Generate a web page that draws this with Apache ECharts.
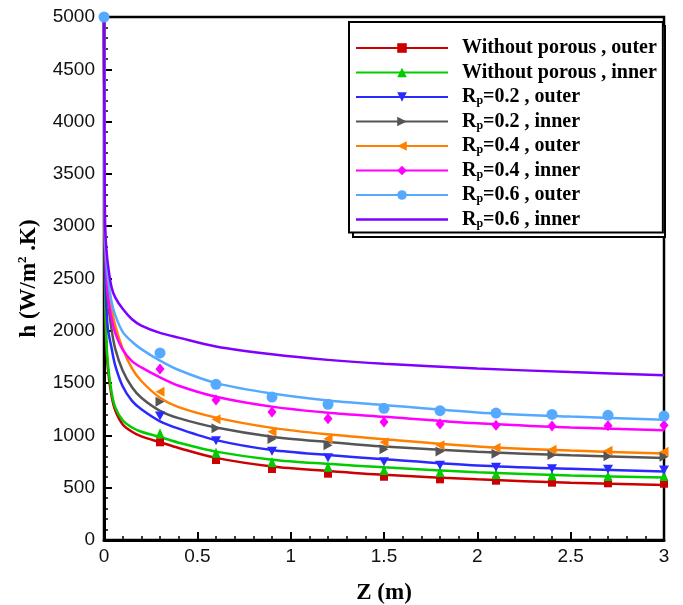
<!DOCTYPE html>
<html>
<head>
<meta charset="utf-8">
<script src="https://cdn.jsdelivr.net/npm/echarts@6/dist/echarts.min.js"></script>
<style>html,body{margin:0;padding:0;background:#fff;}#c{width:683px;height:605px;}</style>
</head>
<body>
<div id="c"></div>
<script>
// ---- data ----
const seriesNames = [
  'Without porous , outer', 'Without porous , inner',
  'R_p=0.2 , outer', 'R_p=0.2 , inner',
  'R_p=0.4 , outer', 'R_p=0.4 , inner',
  'R_p=0.6 , outer', 'R_p=0.6 , inner'
];
const xTicks = [0, 0.5, 1, 1.5, 2, 2.5, 3];
const yTicks = [0, 500, 1000, 1500, 2000, 2500, 3000, 3500, 4000, 4500, 5000];

const curveZ = [0, 0.005, 0.01, 0.02, 0.04, 0.06, 0.1, 0.15, 0.2, 0.3, 0.4, 0.6, 0.9, 1.2, 1.5, 2.0, 2.5, 3.0];
const curveNoPorOuter = [5000, 2500, 1950, 1650, 1380, 1240, 1105, 1035, 990, 935, 880, 785, 703, 660, 623, 580, 548, 526];
const curveNoPorInner = [5000, 2600, 2050, 1700, 1420, 1270, 1145, 1075, 1035, 985, 930, 845, 768, 728, 695, 648, 616, 597];
const curveRp02Outer  = [5000, 2700, 2350, 2030, 1840, 1670, 1470, 1330, 1250, 1135, 1065, 955, 860, 812, 772, 712, 680, 655];
const curveRp02Inner  = [5000, 2800, 2600, 2300, 2020, 1830, 1620, 1460, 1360, 1235, 1165, 1075, 988, 937, 893, 844, 810, 785];
const curveRp04Outer  = [5000, 2850, 2700, 2500, 2220, 2050, 1830, 1640, 1520, 1360, 1270, 1170, 1072, 1010, 963, 895, 855, 828];
const curveRp04Inner  = [5000, 2900, 2650, 2350, 2120, 1980, 1820, 1710, 1650, 1555, 1475, 1370, 1275, 1217, 1178, 1115, 1075, 1050];
const curveRp06Outer  = [5000, 2950, 2750, 2520, 2280, 2150, 1990, 1895, 1825, 1715, 1625, 1500, 1400, 1333, 1290, 1220, 1180, 1150];
const curveRp06Inner  = [5000, 3050, 2850, 2650, 2420, 2320, 2210, 2110, 2050, 1980, 1935, 1850, 1775, 1722, 1685, 1640, 1605, 1575];

const markerZ = [0.3, 0.6, 0.9, 1.2, 1.5, 1.8, 2.1, 2.4, 2.7, 3.0];
const markNoPorOuter = [934, 765, 679, 634, 605, 580, 567, 548, 542, 538];
const markNoPorInner = [1020, 835, 746, 701, 669, 650, 631, 618, 612, 612];
const markRp02Outer  = [1185, 949, 848, 787, 749, 714, 695, 682, 676, 669];
const markRp02Inner  = [1322, 1068, 966, 905, 867, 845, 825, 813, 800, 795];
const markRp04Outer  = [1418, 1154, 1035, 969, 934, 905, 883, 864, 854, 844];
const markRp04Inner  = [1635, 1338, 1224, 1160, 1128, 1109, 1096, 1090, 1093, 1096];
const markRp06OuterZ = [0, 0.3, 0.6, 0.9, 1.2, 1.5, 1.8, 2.1, 2.4, 2.7, 3.0];
const markRp06Outer  = [5000, 1788, 1488, 1367, 1297, 1259, 1236, 1214, 1201, 1192, 1185];

// ---- styling ----
const colors = ['#cc0000', '#00cc00', '#2a2aff', '#555555', '#ff8000', '#ff00ff', '#55aaff', '#8000ff'];
const symbols = [
  'rect', 'triangle',
  'path://M0,0L10,0L5,10Z', 'path://M0,0L10,5L0,10Z',
  'path://M10,0L0,5L10,10Z', 'diamond',
  'circle', 'none'
];
const symSizes = [8, [9, 10], [10, 9], [9, 10], [9, 10], [9, 11], 11, 0];
const curves = [curveNoPorOuter, curveNoPorInner, curveRp02Outer, curveRp02Inner, curveRp04Outer, curveRp04Inner, curveRp06Outer, curveRp06Inner];
const marks = [
  [markerZ, markNoPorOuter], [markerZ, markNoPorInner], [markerZ, markRp02Outer], [markerZ, markRp02Inner],
  [markerZ, markRp04Outer], [markerZ, markRp04Inner], [markRp06OuterZ, markRp06Outer], null
];

const series = [];
seriesNames.forEach((name, i) => {
  series.push({
    name: name, type: 'line',
    data: curveZ.map((z, k) => [z, curves[i][k]]),
    showSymbol: false,
    symbol: symbols[i] === 'none' ? 'circle' : symbols[i],
    symbolSize: symSizes[i],
    smooth: 0.3,
    lineStyle: {color: colors[i], width: 2.5},
    itemStyle: {color: colors[i]},
    z: 2, silent: true
  });
});
seriesNames.forEach((name, i) => {
  if (!marks[i]) return;
  series.push({
    name: name, type: 'scatter',
    data: marks[i][0].map((z, k) => [z, marks[i][1][k]]),
    symbol: symbols[i], symbolSize: symSizes[i],
    itemStyle: {color: colors[i], opacity: 1},
    clip: false, z: 3, silent: true
  });
});

const serif = 'Liberation Serif';
const sans = 'Liberation Sans';

const chart = echarts.init(document.getElementById('c'), null, {renderer: 'canvas'});
chart.setOption({
  animation: false,
  backgroundColor: '#fff',
  grid: {left: 104, right: 19, top: 17, bottom: 65, containLabel: false, outerBoundsMode: 'none',
         show: true, borderColor: '#000', borderWidth: 2.5, backgroundColor: 'transparent'},
  xAxis: {
    type: 'value', min: xTicks[0], max: xTicks[xTicks.length - 1], interval: 0.5,
    name: 'Z (m)', nameLocation: 'middle', nameGap: 42,
    nameTextStyle: {fontFamily: serif, fontWeight: 'bold', fontSize: 23, color: '#000'},
    axisLine: {lineStyle: {color: '#000', width: 3}},
    axisTick: {inside: true, length: 8, lineStyle: {color: '#000', width: 2}},
    minorTick: {show: true, splitNumber: 5, length: 4, lineStyle: {color: '#000', width: 1.5}},
    splitLine: {show: false},
    axisLabel: {fontFamily: sans, fontSize: 19, color: '#111', margin: 7}
  },
  yAxis: {
    type: 'value', min: yTicks[0], max: yTicks[yTicks.length - 1], interval: 500,
    name: '{a|h (W/m}{b|2}{a| .K)}', nameLocation: 'middle', nameGap: 62, nameRotate: 90,
    nameTextStyle: {
      color: '#000',
      rich: {
        a: {fontFamily: serif, fontWeight: 'bold', fontSize: 23, color: '#000', lineHeight: 26},
        b: {fontFamily: serif, fontWeight: 'bold', fontSize: 13, color: '#000', verticalAlign: 'top', lineHeight: 13}
      }
    },
    axisLine: {lineStyle: {color: '#000', width: 3}},
    axisTick: {inside: true, length: 8, lineStyle: {color: '#000', width: 2}},
    minorTick: {show: true, splitNumber: 5, length: 4, lineStyle: {color: '#000', width: 1.5}},
    splitLine: {show: false},
    axisLabel: {fontFamily: sans, fontSize: 19, color: '#111', margin: 9, formatter: v => String(v)}
  },
  legend: {
    orient: 'vertical', left: 349, top: 22,
    padding: [16, 6, 3, 6],
    backgroundColor: '#fff', borderColor: '#000', borderWidth: 2,
    itemWidth: 92, itemHeight: 12, itemGap: 4.5,
    z: 10,
    data: seriesNames.map((n, i) => i === 7 ? {name: n, icon: 'path://M0,0L100,0L100,2.7L0,2.7Z'} : {name: n}),
    formatter: n => n.indexOf('R_p') === 0 ? '{r|R}{s|p}{r|' + n.slice(3) + '}' : '{r|' + n + '}',
    textStyle: {
      fontFamily: serif, fontWeight: 'bold', fontSize: 20, color: '#000', padding: [0, 0, 0, 9],
      rich: {
        r: {fontFamily: serif, fontWeight: 'bold', fontSize: 20, color: '#000', lineHeight: 20},
        s: {fontFamily: serif, fontWeight: 'bold', fontSize: 12, color: '#000', lineHeight: 12, verticalAlign: 'bottom'}
      }
    }
  },
  graphic: [{
    type: 'rect', z: 5, silent: true,
    shape: {x: 353, y: 26, width: 312, height: 211},
    style: {fill: '#fff', stroke: '#000', lineWidth: 2}
  }],
  series: series
});
</script>
</body>
</html>
